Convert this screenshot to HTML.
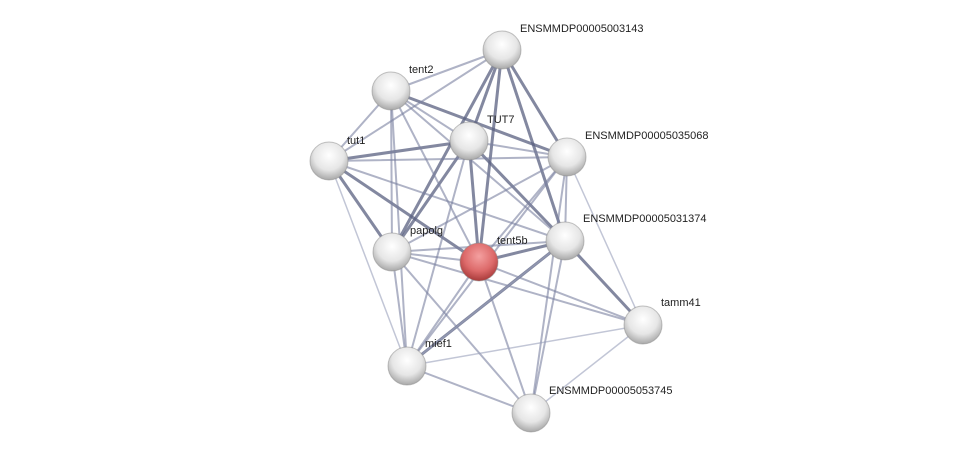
<!DOCTYPE html>
<html><head><meta charset="utf-8"><style>
html,body{margin:0;padding:0;background:#fff;}
svg{display:block}
text{font-family:"Liberation Sans",sans-serif;font-size:11px;fill:#222;}
</style></head><body>
<svg width="976" height="458" viewBox="0 0 976 458" xmlns="http://www.w3.org/2000/svg">
<defs>
<radialGradient id="g" cx="50%" cy="35%" r="65%">
<stop offset="0" stop-color="#ffffff"/><stop offset="0.6" stop-color="#e6e6e6"/><stop offset="1" stop-color="#a8a8a8"/></radialGradient>
<radialGradient id="r" cx="50%" cy="35%" r="65%">
<stop offset="0" stop-color="#f4a0a0"/><stop offset="0.6" stop-color="#dd6a6a"/><stop offset="1" stop-color="#a83a3a"/></radialGradient>
<linearGradient id="hl" x1="0" y1="0" x2="0" y2="1"><stop offset="0" stop-color="#fff" stop-opacity="0.9"/><stop offset="1" stop-color="#fff" stop-opacity="0"/></linearGradient>
</defs>
<g stroke-linecap="round">
<g stroke="#5a6080" stroke-opacity="0.75" stroke-width="3">
<line x1="502" y1="50" x2="469" y2="141"/><line x1="502" y1="50" x2="565" y2="241"/><line x1="502" y1="50" x2="392" y2="252"/>
<line x1="502" y1="50" x2="567" y2="157"/><line x1="329" y1="161" x2="392" y2="252"/><line x1="329" y1="161" x2="479" y2="262"/>
<line x1="469" y1="141" x2="392" y2="252"/><line x1="469" y1="141" x2="479" y2="262"/><line x1="469" y1="141" x2="565" y2="241"/>
<line x1="565" y1="241" x2="407" y2="366"/><line x1="391" y1="91" x2="567" y2="157"/><line x1="329" y1="161" x2="469" y2="141"/>
<line x1="502" y1="50" x2="479" y2="262"/><line x1="565" y1="241" x2="643" y2="325"/><line x1="565" y1="241" x2="479" y2="262"/>
</g>
<g stroke="#7a80a0" stroke-opacity="0.6" stroke-width="2">
<line x1="502" y1="50" x2="391" y2="91"/><line x1="502" y1="50" x2="329" y2="161"/><line x1="391" y1="91" x2="469" y2="141"/>
<line x1="391" y1="91" x2="329" y2="161"/><line x1="391" y1="91" x2="392" y2="252"/><line x1="391" y1="91" x2="479" y2="262"/>
<line x1="391" y1="91" x2="565" y2="241"/><line x1="469" y1="141" x2="567" y2="157"/><line x1="329" y1="161" x2="567" y2="157"/>
<line x1="329" y1="161" x2="565" y2="241"/><line x1="567" y1="157" x2="479" y2="262"/><line x1="567" y1="157" x2="565" y2="241"/>
<line x1="567" y1="157" x2="392" y2="252"/><line x1="392" y1="252" x2="479" y2="262"/><line x1="392" y1="252" x2="565" y2="241"/>
<line x1="392" y1="252" x2="407" y2="366"/><line x1="479" y1="262" x2="407" y2="366"/><line x1="479" y1="262" x2="531" y2="413"/>
<line x1="565" y1="241" x2="531" y2="413"/><line x1="567" y1="157" x2="531" y2="413"/><line x1="479" y1="262" x2="643" y2="325"/>
<line x1="392" y1="252" x2="643" y2="325"/><line x1="392" y1="252" x2="531" y2="413"/><line x1="407" y1="366" x2="531" y2="413"/>
<line x1="469" y1="141" x2="407" y2="366"/><line x1="567" y1="157" x2="407" y2="366"/><line x1="391" y1="91" x2="407" y2="366"/>
</g>
<g stroke="#9aa0ba" stroke-opacity="0.6" stroke-width="1.5">
<line x1="329" y1="161" x2="407" y2="366"/><line x1="567" y1="157" x2="643" y2="325"/><line x1="643" y1="325" x2="407" y2="366"/>
<line x1="643" y1="325" x2="531" y2="413"/><line x1="565" y1="241" x2="407" y2="366"/>
</g>
</g>
<g stroke="#888" stroke-opacity="0.5" stroke-width="1">
<circle cx="502" cy="50" r="19" fill="url(#g)"/><circle cx="391" cy="91" r="19" fill="url(#g)"/>
<circle cx="469" cy="141" r="19" fill="url(#g)"/><circle cx="329" cy="161" r="19" fill="url(#g)"/>
<circle cx="567" cy="157" r="19" fill="url(#g)"/><circle cx="565" cy="241" r="19" fill="url(#g)"/>
<circle cx="392" cy="252" r="19" fill="url(#g)"/><circle cx="479" cy="262" r="19" fill="url(#r)"/>
<circle cx="643" cy="325" r="19" fill="url(#g)"/><circle cx="407" cy="366" r="19" fill="url(#g)"/>
<circle cx="531" cy="413" r="19" fill="url(#g)"/>
</g>
<text x="520" y="32">ENSMMDP00005003143</text>
<text x="409" y="73">tent2</text>
<text x="487" y="123">TUT7</text>
<text x="347" y="144">tut1</text>
<text x="585" y="139">ENSMMDP00005035068</text>
<text x="583" y="222">ENSMMDP00005031374</text>
<text x="410" y="234">papolg</text>
<text x="497" y="244">tent5b</text>
<text x="661" y="306">tamm41</text>
<text x="425" y="347">mief1</text>
<text x="549" y="394">ENSMMDP00005053745</text>
</svg>
</body></html>
